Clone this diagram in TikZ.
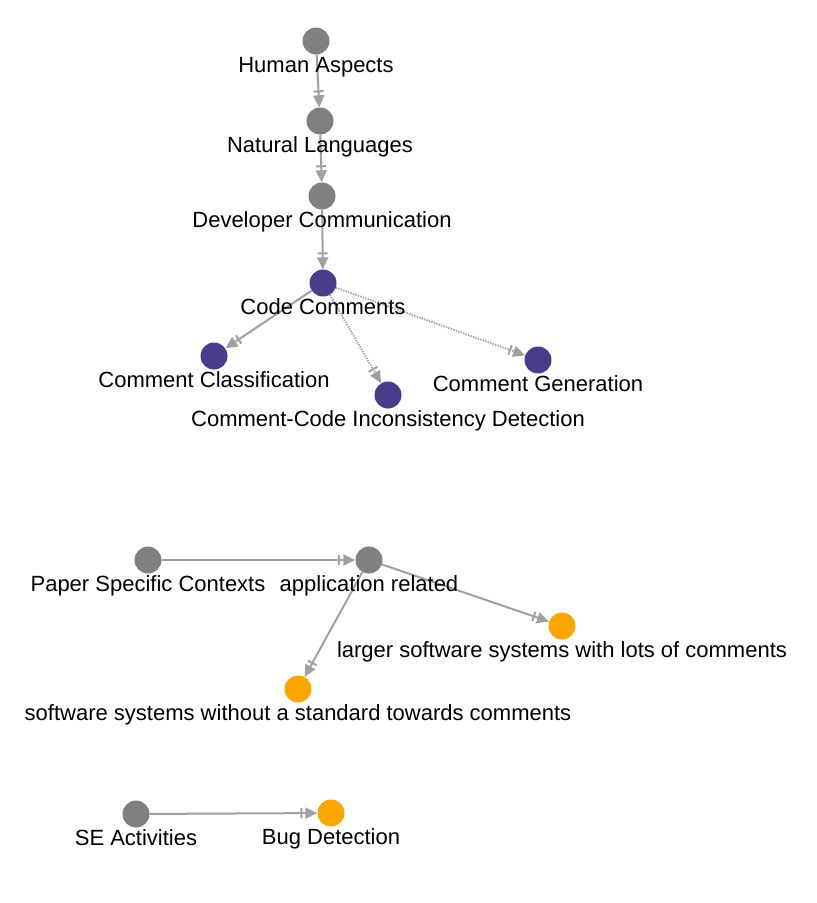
\documentclass[tikz,border=0pt]{standalone}
\usepackage{fontspec}
\setmainfont{Liberation Sans}
\usetikzlibrary{arrows.meta,backgrounds}
\definecolor{topicgray}{HTML}{808080}
\definecolor{commentblue}{HTML}{483D8B}
\definecolor{contextorange}{HTML}{FFA500}
\definecolor{edgegray}{HTML}{A0A0A0}
\begin{document}
\begin{tikzpicture}[x=1pt,y=-1pt,label distance=2pt,
  every label/.style={inner sep=0pt,font=\fontsize{22}{26}\selectfont},
  main node/.style={circle,minimum size=27pt,inner sep=0pt,fill=topicgray},
  comment node/.style={main node,fill=commentblue},
  leaf node/.style={main node,fill=contextorange},
  link/.style={draw=edgegray,line width=2pt,
    -{Bar[width=10pt,line width=2pt,sep=3pt]Triangle[length=12pt,width=11pt]}},
  weak link/.style={link,dash pattern=on 1.3pt off 1.3pt}]

  \useasboundingbox (0,0) rectangle (817,903);

  % taxonomy
  \node[main node,label=below:Human Aspects] (ha) at (316,41) {};
  \node[main node,label=below:Natural Languages] (nl) at (320,121) {};
  \node[main node,label=below:Developer Communication] (dc) at (322,196) {};
  \node[comment node,label=below:Code Comments] (cc) at (323,283) {};
  \node[comment node,label=below:Comment Classification] (ccl) at (214,356) {};
  \node[comment node,label=below:Comment-Code Inconsistency Detection] (cci) at (388,395) {};
  \node[comment node,label=below:Comment Generation] (cg) at (538,360) {};

  % contexts
  \node[main node,label=below:Paper Specific Contexts] (psc) at (148,560) {};
  \node[main node,label=below:application related] (ar) at (369,560) {};
  \node[leaf node,label=below:larger software systems with lots of comments] (lss) at (562,626) {};
  \node[leaf node,label=below:software systems without a standard towards comments] (sss) at (298,689) {};

  % activities
  \node[main node,label=below:SE Activities] (sea) at (136,814) {};
  \node[leaf node,label=below:Bug Detection] (bd) at (331,813) {};

  \begin{scope}[on background layer]
    \path[link] (ha) -- (nl);
    \path[link] (nl) -- (dc);
    \path[link] (dc) -- (cc);
    \path[link] (cc) -- (ccl);
    \path[weak link] (cc) -- (cci);
    \path[weak link] (cc) -- (cg);
    \path[link] (psc) -- (ar);
    \path[link] (ar) -- (lss);
    \path[link] (ar) -- (sss);
    \path[link] (sea) -- (bd);
  \end{scope}
\end{tikzpicture}
\end{document}
